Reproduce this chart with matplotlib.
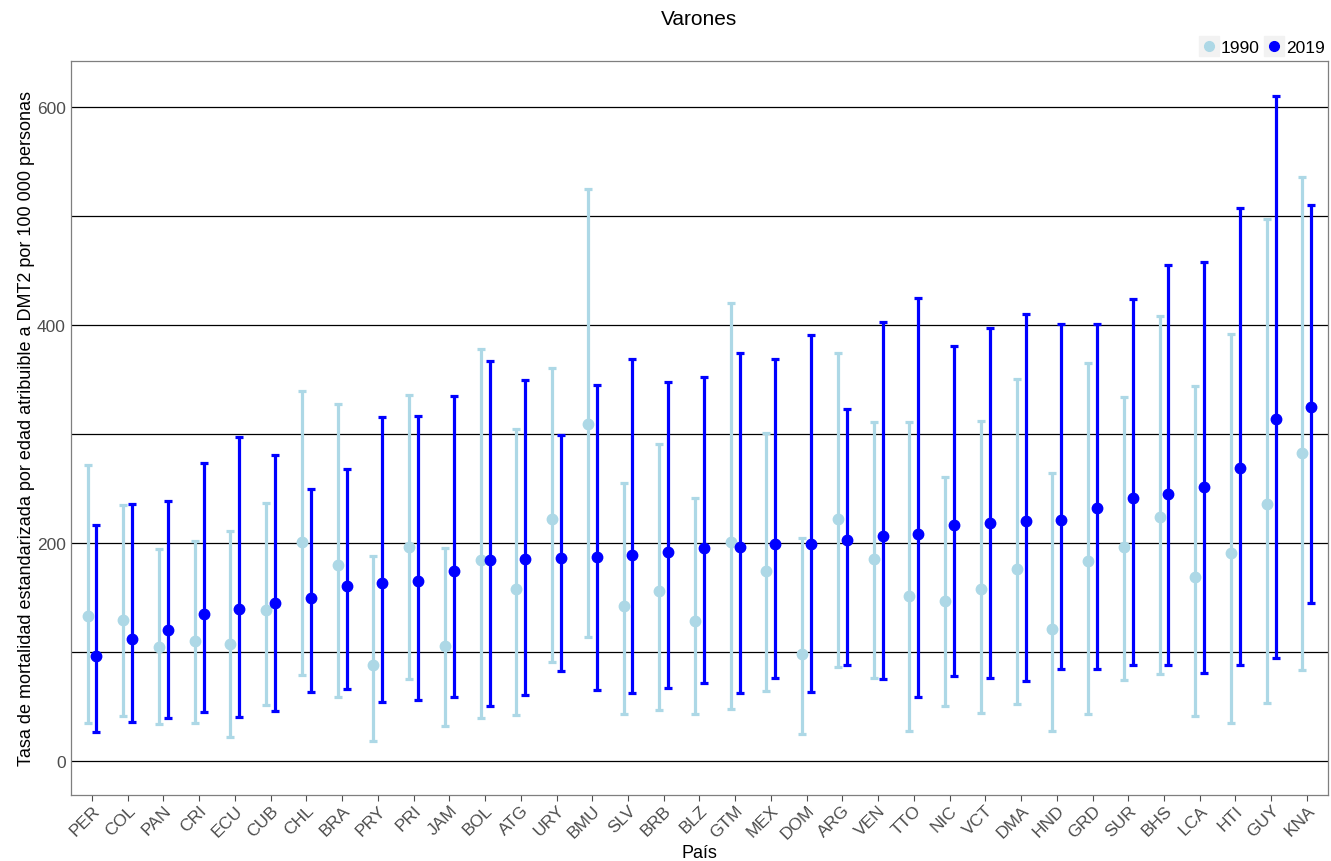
import numpy as np
import matplotlib.pyplot as plt
from matplotlib.lines import Line2D
from matplotlib.ticker import MultipleLocator

# Age-standardised T2DM mortality, men, by country (1990 vs 2019)
paises = ['PER', 'COL', 'PAN', 'CRI', 'ECU', 'CUB', 'CHL', 'BRA', 'PRY', 'PRI',
          'JAM', 'BOL', 'ATG', 'URY', 'BMU', 'SLV', 'BRB', 'BLZ', 'GTM', 'MEX',
          'DOM', 'ARG', 'VEN', 'TTO', 'NIC', 'VCT', 'DMA', 'HND', 'GRD', 'SUR',
          'BHS', 'LCA', 'HTI', 'GUY', 'KNA']

val_1990 = [133, 129, 104, 110, 107, 138, 201, 180, 88, 196,
            105, 184, 158, 222, 309, 142, 156, 128, 201, 174,
            98, 222, 185, 151, 147, 158, 176, 121, 183, 196,
            224, 169, 191, 236, 282]
low_1990 = [35, 41, 34, 35, 22, 51, 79, 59, 18, 75,
            32, 39, 42, 91, 114, 43, 47, 43, 48, 64,
            25, 86, 76, 27, 50, 44, 52, 27, 43, 74,
            80, 41, 35, 53, 83]
up_1990 = [271, 235, 194, 202, 211, 237, 339, 327, 188, 336,
           195, 378, 304, 360, 525, 255, 291, 241, 420, 301,
           204, 374, 311, 311, 260, 312, 350, 264, 365, 334,
           408, 344, 392, 497, 536]

val_2019 = [96, 112, 120, 135, 139, 145, 149, 160, 163, 165,
            174, 184, 185, 186, 187, 189, 192, 195, 196, 199,
            199, 203, 206, 208, 216, 218, 220, 221, 232, 241,
            245, 251, 269, 314, 325]
low_2019 = [26, 36, 39, 45, 40, 46, 63, 66, 54, 56,
            59, 50, 60, 82, 65, 62, 67, 71, 62, 76,
            63, 88, 75, 59, 78, 76, 73, 84, 84, 88,
            88, 81, 88, 94, 145]
up_2019 = [216, 236, 238, 273, 297, 281, 249, 268, 315, 316,
           335, 367, 349, 299, 345, 369, 348, 352, 374, 369,
           391, 323, 403, 425, 381, 397, 410, 401, 401, 424,
           455, 458, 507, 610, 510]

plt.rcParams['font.family'] = ['Liberation Sans', 'DejaVu Sans']

fig, ax = plt.subplots(figsize=(13.31, 8.62), dpi=100)
fig.subplots_adjust(left=0.053, right=0.998, top=0.928, bottom=0.077)

x = np.arange(len(paises))
dodge = 0.125
series = [
    (val_1990, low_1990, up_1990, -dodge, '#add8e6', '1990'),
    (val_2019, low_2019, up_2019, dodge, '#0000ff', '2019'),
]
handles = []
for vals, lo, hi, off, col, lab in series:
    vals = np.array(vals)
    yerr = [vals - np.array(lo), np.array(hi) - vals]
    ax.errorbar(x + off, vals, yerr=yerr, fmt='o', color=col, ecolor=col,
                markersize=7.5, elinewidth=2.3, capsize=3, capthick=2.3,
                zorder=3)
    key = Line2D([], [], marker='s', linestyle='none', markersize=15,
                 color='#f2f2f2')
    dot = Line2D([], [], marker='o', linestyle='none', markersize=7, color=col)
    handles.append((key, dot))

ax.set_xlim(-0.6, len(paises) - 0.4)
ax.set_ylim(-31, 642)
ax.yaxis.set_major_locator(MultipleLocator(200))
ax.yaxis.set_minor_locator(MultipleLocator(100))
ax.grid(True, which='both', axis='y', color='black', linewidth=0.9, zorder=1)
ax.set_axisbelow(True)

ax.set_xticks(x)
ax.set_xticklabels(paises, rotation=45, ha='right', rotation_mode='anchor')
ax.tick_params(axis='x', colors='#4d4d4d', labelsize=12.5, length=4, width=0.8,
               pad=1.5)
ax.tick_params(axis='y', which='both', colors='#4d4d4d', labelsize=12.5, length=0)

for s in ax.spines.values():
    s.set_color('#7f7f7f')
    s.set_linewidth(0.9)

ax.set_xlabel('País', fontsize=13, labelpad=2)
ax.set_ylabel('Tasa de mortalidad estandarizada por edad atribuible a DMT2 por 100 000 personas',
              fontsize=13, labelpad=1)
ax.set_title('Varones', fontsize=15, pad=27)

ax.legend(handles, ['1990', '2019'], loc='lower right', bbox_to_anchor=(1.002, 1.0),
          ncol=2, frameon=False, fontsize=12.5, handletextpad=0.2,
          columnspacing=0.3, borderaxespad=0.15, handlelength=1.0,
          borderpad=0.2)

fig.savefig('out.png', dpi=100)
